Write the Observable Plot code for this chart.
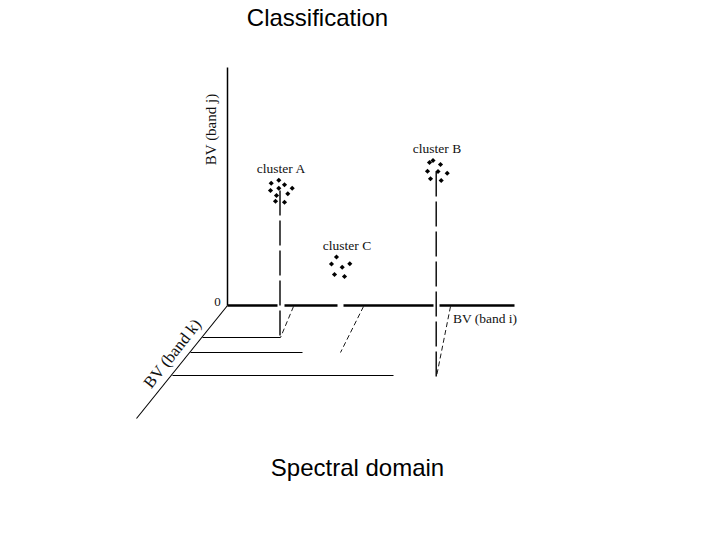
<!DOCTYPE html>
<html>
<head>
<meta charset="utf-8">
<script src="https://cdn.jsdelivr.net/npm/d3@7"></script>
<script src="https://cdn.jsdelivr.net/npm/@observablehq/plot@0.6"></script>
<style>
  html, body { margin: 0; padding: 0; background: #fff; }
  #page { position: relative; width: 720px; height: 540px; overflow: hidden; }
  #chart { position: absolute; left: 0; top: 0; }
  .title, .caption {
    position: absolute; left: 0; width: 635px; text-align: center;
    font-family: Arial, "Liberation Sans", sans-serif; font-size: 24px;
    line-height: 24px; color: #000; white-space: nowrap;
  }
  .title { top: 6px; }
  .caption { top: 456px; left: 40px; }
</style>
</head>
<body>
<div id="page">
  <div id="chart"></div>
  <div class="title" id="title"></div>
  <div class="caption" id="caption"></div>
</div>
<script>
// ---- Text ----
const titleText = "Classification";
const captionText = "Spectral domain";
const originLabel = "0";
const axisLabelJ = "BV (band j)";
const axisLabelI = "BV (band i)";
const axisLabelK = "BV (band k)";

// ---- Diagram geometry (diagram units) ----
const axisJ = [{x1: 227, y1: 67, x2: 227, y2: 305}];
const axisI = [
  {x1: 227, x2: 277, y: 305},
  {x1: 284, x2: 337, y: 305},
  {x1: 343, x2: 433, y: 305},
  {x1: 439, x2: 514, y: 305}
];
const axisK = [{x1: 227, y1: 305, x2: 136, y2: 418}];
const kGuides = [
  {x1: 202, x2: 280, y: 337},
  {x1: 190, x2: 302, y: 352},
  {x1: 172, x2: 393, y: 375}
];
const dropLines = [
  {x: 279.5, y1: 190, y2: 337},
  {x: 435.7, y1: 171, y2: 377}
];
const slantLines = [
  {x1: 293, y1: 306, x2: 280, y2: 337},
  {x1: 363, y1: 306, x2: 340, y2: 352},
  {x1: 450, y1: 306, x2: 436, y2: 376}
];

// ---- Cluster samples ----
const clusterA = [
  [270.7, 182.7], [278.3, 179.7], [270, 190], [278.3, 187.7], [284, 184.3],
  [291.7, 187.7], [287.3, 193.3], [276, 195], [275, 200.7], [284, 201.7]
];
const clusterB = [
  [429, 162], [432.5, 160], [440, 164], [427, 170.7], [446.7, 172.7],
  [430, 178.3], [440.7, 180], [437.5, 171]
];
const clusterC = [
  [336, 256.5], [331, 263.5], [349.3, 263.3], [341.7, 266.7], [334, 274], [344, 276]
];
const clusterLabels = [
  {name: "cluster A", x: 280.5, y: 172},
  {name: "cluster B", x: 436.5, y: 152},
  {name: "cluster C", x: 346.5, y: 249}
];

const points = [
  ...clusterA.map(([x, y]) => ({x, y, c: "A"})),
  ...clusterB.map(([x, y]) => ({x, y, c: "B"})),
  ...clusterC.map(([x, y]) => ({x, y, c: "C"}))
];

const serif = "'Liberation Serif', 'Times New Roman', 'DejaVu Serif', serif";

const chart = Plot.plot({
  width: 720,
  height: 540,
  margin: 0,
  style: {background: "transparent"},
  x: {domain: [0, 720], range: [0, 720], axis: null},
  y: {domain: [0, 540], range: [0, 540], axis: null},
  marks: [
    Plot.link(axisJ, {x1: "x1", y1: "y1", x2: "x2", y2: "y2", stroke: "#000", strokeWidth: 1.5}),
    Plot.link(axisK, {x1: "x1", y1: "y1", x2: "x2", y2: "y2", stroke: "#000", strokeWidth: 1.1}),
    Plot.link(kGuides, {x1: "x1", x2: "x2", y1: "y", y2: "y", stroke: "#000", strokeWidth: 1.2}),
    Plot.link(axisI, {x1: "x1", x2: "x2", y1: "y", y2: "y", stroke: "#000", strokeWidth: 2.6}),
    Plot.link(dropLines, {x1: "x", x2: "x", y1: "y1", y2: "y2", stroke: "#000", strokeWidth: 1.4, strokeDasharray: "25,5"}),
    Plot.link(slantLines, {x1: "x1", y1: "y1", x2: "x2", y2: "y2", stroke: "#000", strokeWidth: 0.9, strokeDasharray: "5,3"}),
    Plot.dot(points, {x: "x", y: "y", symbol: "diamond2", r: 2.3, fill: "#000", stroke: "none"}),
    Plot.text(clusterLabels, {x: "x", y: "y", text: "name", fontFamily: serif, fontSize: 13.5, fill: "#111", lineAnchor: "bottom"}),
    Plot.text([originLabel], {x: 217, y: 301, text: d => d, fontFamily: serif, fontSize: 13, fill: "#111"}),
    Plot.text([axisLabelI], {x: 484.5, y: 322, text: d => d, fontFamily: serif, fontSize: 13.5, fill: "#111", lineAnchor: "bottom"}),
    Plot.text([axisLabelJ], {x: 211, y: 129, text: d => d, fontFamily: serif, fontSize: 15, fill: "#111", rotate: -90}),
    Plot.text([axisLabelK], {x: 172, y: 353, text: d => d, fontFamily: serif, fontSize: 16.5, fill: "#111", rotate: -52})
  ]
});
document.getElementById("chart").appendChild(chart);
document.getElementById("title").textContent = titleText;
document.getElementById("caption").textContent = captionText;
</script>
</body>
</html>
